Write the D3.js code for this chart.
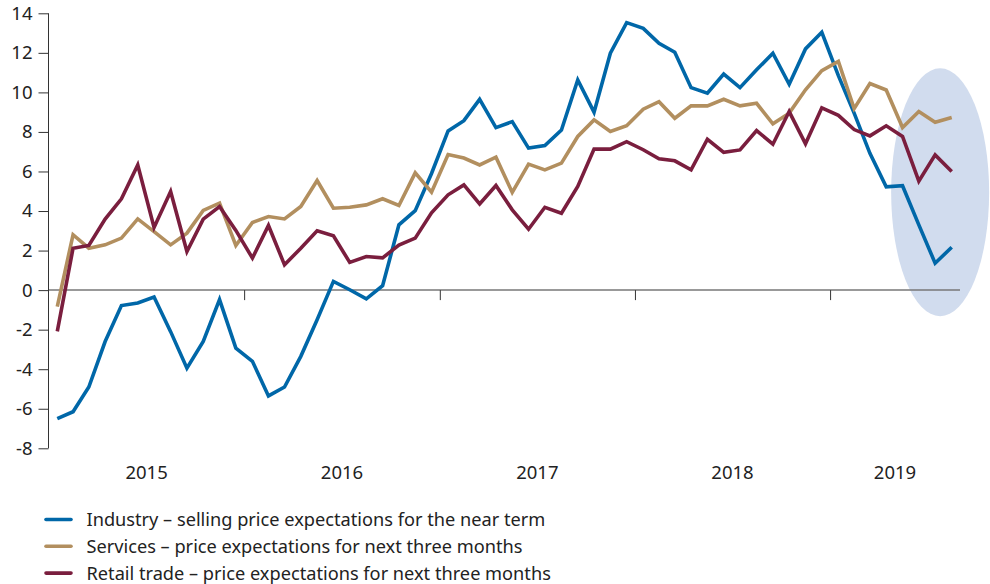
<!DOCTYPE html>
<html lang="en">
<head>
  <meta charset="UTF-8" />
  <title>Price expectations</title>
  <script src="https://d3js.org/d3.v7.min.js"></script>
  <style>
    body { margin: 0; background: #fff; font-family: "Noto Sans", sans-serif; }
    svg { display: block; }
    .axis text { font-family: "Noto Sans", sans-serif; font-size: 18.5px; fill: #222; }
    .legend text { font-family: "Noto Sans", sans-serif; font-size: 18.2px; fill: #222; }
  </style>
</head>
<body>
<svg width="990" height="584"></svg>
<script>
  // monthly data, Jan 2015 - Aug 2019
  const startMonth = new Date(2015, 0, 1);
  const years = [2015, 2016, 2017, 2018, 2019];

  const industry = [
    -6.5, -6.15, -4.9, -2.6, -0.78, -0.65, -0.35, -2.1, -3.95, -2.6, -0.48, -2.93,
    -3.6, -5.35, -4.9, -3.35, -1.5, 0.44, 0.02, -0.44, 0.22, 3.3, 4.02, 5.9,
    8.05, 8.57, 9.65, 8.22, 8.52, 7.18, 7.31, 8.1, 10.63, 9.0, 11.98, 13.53,
    13.24, 12.48, 12.03, 10.24, 9.96, 10.93, 10.24, 11.14, 11.98, 10.41, 12.2, 13.04,
    10.85, 8.95, 6.92, 5.22, 5.28, 3.3, 1.36, 2.17
  ];
  const services = [
    -0.83, 2.8, 2.12, 2.29, 2.63, 3.6, 2.96, 2.29, 2.88, 4.03, 4.4, 2.26,
    3.42, 3.72, 3.6, 4.23, 5.54, 4.14, 4.19, 4.31, 4.62, 4.28, 5.93, 4.95,
    6.86, 6.68, 6.33, 6.72, 4.94, 6.37, 6.08, 6.42, 7.77, 8.61, 8.02, 8.31,
    9.15, 9.53, 8.69, 9.32, 9.32, 9.65, 9.32, 9.45, 8.41, 8.95, 10.13, 11.1,
    11.57, 9.18, 10.45, 10.12, 8.22, 9.03, 8.49, 8.73
  ];
  const retail = [
    -2.09, 2.12, 2.26, 3.59, 4.62, 6.33, 3.17, 4.99, 1.95, 3.59, 4.23, 3.02,
    1.62, 3.27, 1.28, 2.12, 3.0, 2.75, 1.4, 1.7, 1.63, 2.28, 2.63, 3.91,
    4.82, 5.32, 4.36, 5.29, 4.06, 3.08, 4.19, 3.89, 5.24, 7.13, 7.13, 7.51,
    7.1, 6.64, 6.54, 6.08, 7.63, 6.97, 7.09, 8.07, 7.38, 9.03, 7.4, 9.22,
    8.84, 8.12, 7.8, 8.31, 7.77, 5.51, 6.84, 6.0
  ];

  const series = [
    { label: "Industry – selling price expectations for the near term", values: industry, color: "#0067a8" },
    { label: "Services – price expectations for next three months", values: services, color: "#b28f5f" },
    { label: "Retail trade – price expectations for next three months", values: retail, color: "#7a1e3e" }
  ];

  const svg = d3.select("svg");
  const months = industry.length;
  const endMonth = d3.timeMonth.offset(startMonth, months);

  const x = d3.scaleTime().domain([startMonth, endMonth]).range([49, 960]);
  const y = d3.scaleLinear().domain([-8, 14]).range([448.3, 13.3]);

  const midMonth = i => {
    const a = d3.timeMonth.offset(startMonth, i);
    const b = d3.timeMonth.offset(startMonth, i + 1);
    return new Date((+a + +b) / 2);
  };

  // highlighted recent period
  svg.append("ellipse")
    .attr("cx", x(midMonth(months - 2)) + 5)
    .attr("cy", y(4.95))
    .attr("rx", 49)
    .attr("ry", 124)
    .attr("fill", "#d1dcee");

  // y axis
  const yAxis = svg.append("g")
    .attr("class", "axis")
    .attr("transform", "translate(48.5,0)")
    .call(d3.axisLeft(y)
      .tickValues(d3.range(-8, 15, 2))
      .tickSize(10)
      .tickPadding(6)
      .tickFormat(d => String(d)));
  yAxis.selectAll("path, line").attr("stroke", "#333");
  yAxis.select(".domain").attr("d", `M0,${y(-8)}V${y(14)}`);

  // zero line with year separators
  const zero = svg.append("g")
    .attr("class", "axis")
    .attr("transform", `translate(0,${y(0)})`)
    .call(d3.axisBottom(x)
      .tickValues(years.slice(1).map(yr => new Date(yr, 0, 1)))
      .tickSize(10)
      .tickFormat(""));
  zero.select(".domain").attr("stroke", "#777").attr("stroke-width", 1.5)
    .attr("d", `M${x.range()[0]},0H${x.range()[1]}`);
  zero.selectAll(".tick line").attr("stroke", "#333");

  // year labels centred in each year's span
  svg.append("g")
    .attr("class", "axis")
    .selectAll("text")
    .data(years)
    .join("text")
    .attr("x", yr => {
      const a = Math.max(x(new Date(yr, 0, 1)), x.range()[0]);
      const b = Math.min(x(new Date(yr + 1, 0, 1)), x.range()[1]);
      return (a + b) / 2;
    })
    .attr("y", 479)
    .attr("text-anchor", "middle")
    .text(d => d);

  const line = d3.line()
    .x((d, i) => x(midMonth(i)))
    .y(d => y(d));

  svg.append("g")
    .selectAll("path")
    .data(series)
    .join("path")
    .attr("fill", "none")
    .attr("stroke", d => d.color)
    .attr("stroke-width", 3.6)
    .attr("stroke-linejoin", "miter")
    .attr("d", d => line(d.values));

  // legend
  const legend = svg.append("g")
    .attr("class", "legend")
    .selectAll("g")
    .data(series)
    .join("g")
    .attr("transform", (d, i) => `translate(0,${519.5 + i * 26.8})`);

  legend.append("line")
    .attr("x1", 46).attr("x2", 71)
    .attr("stroke", d => d.color)
    .attr("stroke-width", 3.6)
    .attr("stroke-linecap", "round");

  legend.append("text")
    .attr("x", 86.5)
    .attr("y", 6.6)
    .text(d => d.label);
</script>
</body>
</html>
